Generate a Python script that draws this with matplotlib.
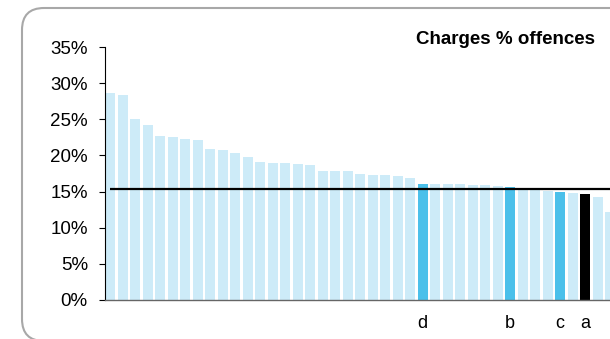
import matplotlib
matplotlib.use("Agg")
import matplotlib.pyplot as plt
from matplotlib.patches import FancyBboxPatch
from matplotlib.transforms import IdentityTransform
from matplotlib.ticker import FuncFormatter

plt.rcParams['font.family'] = ['Liberation Sans', 'DejaVu Sans']

title = "Charges % offences"
values = [28.7, 28.4, 25.1, 24.2, 22.7, 22.6, 22.3, 22.2, 20.9, 20.7, 20.3, 19.8,
          19.1, 19.0, 18.9, 18.8, 18.7, 17.9, 17.8, 17.8, 17.4, 17.35, 17.3, 17.1,
          16.9, 16.1, 16.0, 16.0, 16.0, 15.9, 15.9, 15.8, 15.6, 15.45, 15.3, 15.1,
          14.9, 14.8, 14.6, 14.3, 12.2]
average = 15.3
labels = {25: "d", 32: "b", 36: "c", 38: "a"}
highlight_blue = [25, 32, 36]
highlight_black = [38]
yticks = [0, 5, 10, 15, 20, 25, 30, 35]

W, H = 610, 339
fig = plt.figure(figsize=(W / 100, H / 100), dpi=100)

# rounded frame
frame = FancyBboxPatch((22, -2), 700, 333, boxstyle="round,pad=0,rounding_size=22",
                       transform=IdentityTransform(), fc='none', ec='#a8a8a8', lw=1.5)
fig.add_artist(frame)

left, right, bottom, top = 104.5, 610, 300, 47
ax = fig.add_axes([left / W, (H - bottom) / H, (right - left) / W, (bottom - top) / H])

colors = []
for i in range(len(values)):
    if i in highlight_black:
        colors.append('#000000')
    elif i in highlight_blue:
        colors.append('#4BC0EA')
    else:
        colors.append('#CDEBF8')

x = list(range(len(values)))
ax.bar(x, [v / 100 for v in values], width=0.8, color=colors, zorder=2)
ax.hlines(average / 100, 0, len(values) + 2, color='black', lw=1.6, zorder=3)

ax.set_xlim(-0.45, -0.45 + (right - left) / 12.5)
ax.set_ylim(0, 0.35)
ax.set_yticks([t / 100 for t in yticks])
ax.yaxis.set_major_formatter(FuncFormatter(lambda v, p: f"{round(v * 100)}%"))
ax.set_xticks(list(labels.keys()))
ax.set_xticklabels(list(labels.values()))
ax.tick_params(axis='x', length=0, pad=11, labelsize=13)
ax.tick_params(axis='y', length=4, width=0.8, direction='out', pad=8, labelsize=13.5)

for s in ['top', 'right']:
    ax.spines[s].set_visible(False)
ax.spines['left'].set_color('black')
ax.spines['left'].set_linewidth(0.8)
ax.spines['bottom'].set_color('#666666')
ax.spines['bottom'].set_linewidth(1.0)

fig.text(505 / W, (H - 40) / H, title, ha='center', va='center', fontsize=13.5,
         fontweight='bold')

fig.savefig("out.png", dpi=100)
